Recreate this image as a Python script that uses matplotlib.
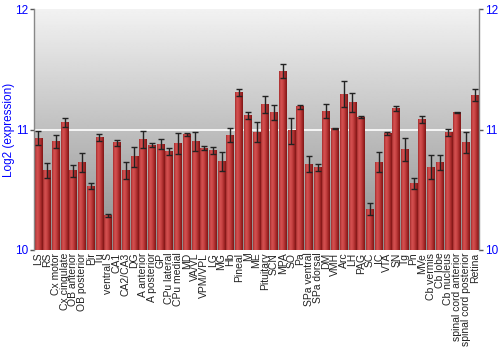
"""Log2 expression per brain region, bar chart with error bars."""

import matplotlib
matplotlib.use("Agg")
import matplotlib.pyplot as plt
import numpy as np
from matplotlib.colors import LinearSegmentedColormap

plt.rcParams["font.family"] = ["Liberation Sans", "DejaVu Sans"]

regions = [
    "LS", "RS", "Cx motor", "Cx cingulate", "OB anterior", "OB posterior",
    "Pir", "Tu", "ventral S", "CA1", "CA2/CA3", "DG", "A anterior",
    "A posterior", "GP", "CPu lateral", "CPu medial", "MD", "VA/VL",
    "VPM/VPL", "LG", "MG", "Hb", "Pineal", "M", "ME", "Pituitary", "SCN",
    "MPA", "SO", "Pa", "SPa ventral", "SPa dorsal", "DM", "VMH", "Arc", "LH",
    "PAG", "SC", "IC", "VTA", "SN", "Tg", "Pn", "MVe", "Cb vermis", "Cb lobe",
    "Cb nucleus", "spinal cord anterior", "spinal cord posterior", "Retina",
]
expression = [
    10.93, 10.66, 10.90, 11.06, 10.66, 10.73, 10.53, 10.935, 10.285, 10.89,
    10.66, 10.775, 10.92, 10.87, 10.88, 10.82, 10.885, 10.96, 10.90, 10.845,
    10.83, 10.735, 10.955, 11.31, 11.12, 10.98, 11.21, 11.14, 11.485, 10.99,
    11.19, 10.715, 10.685, 11.155, 11.01, 11.295, 11.23, 11.105, 10.34, 10.73,
    10.97, 11.175, 10.835, 10.55, 11.085, 10.69, 10.73, 10.975, 11.14, 10.89,
    11.285,
]
sem = [
    0.06, 0.066, 0.055, 0.035, 0.05, 0.08, 0.025, 0.028, 0.014, 0.026,
    0.072, 0.084, 0.073, 0.017, 0.04, 0.029, 0.087, 0.015, 0.077, 0.018,
    0.03, 0.076, 0.058, 0.032, 0.03, 0.083, 0.069, 0.062, 0.058, 0.107,
    0.014, 0.064, 0.028, 0.058, 0.008, 0.11, 0.079, 0.008, 0.05, 0.086,
    0.012, 0.018, 0.098, 0.047, 0.028, 0.10, 0.062, 0.03, 0.005, 0.088,
    0.05,
]
y_ticks = [10, 11, 12]

fig = plt.figure(figsize=(5, 3.5), dpi=100)
ax = fig.add_axes([0.068, 0.286, 0.890, 0.687])

x = np.arange(len(regions))
ymin, ymax = 10, 12
ax.set_xlim(-0.5, len(regions) - 0.5)
ax.set_ylim(ymin, ymax)

# grey vertical gradient behind the bars: light at the top, darker below
bg = np.linspace(0.95, 0.55, 256).reshape(-1, 1)
ax.imshow(bg, cmap="gray", vmin=0, vmax=1, aspect="auto", origin="upper",
          extent=(-0.5, len(regions) - 0.5, ymin, ymax), zorder=0,
          interpolation="bilinear")
ax.axhline(11, color="white", linewidth=1.2, zorder=1)

bars = ax.bar(x, np.array(expression) - ymin, bottom=ymin, width=0.88,
              color="none", edgecolor="none", zorder=2)
bar_cmap = LinearSegmentedColormap.from_list(
    "barred", ["#a52c2c", "#d65252", "#c84444", "#a82a2a", "#7e1616"])
grad = np.linspace(0, 1, 64).reshape(1, -1)
for patch in bars:
    x0 = patch.get_x()
    ax.imshow(grad, cmap=bar_cmap, aspect="auto", interpolation="bilinear",
              extent=(x0, x0 + patch.get_width(), ymin,
                      ymin + patch.get_height()),
              zorder=2)

ax.errorbar(x, expression, yerr=sem, fmt="none", ecolor="#222222",
            elinewidth=1, capsize=2.2, capthick=1, zorder=3)

ax.set_xlim(-0.5, len(regions) - 0.5)
ax.set_ylim(ymin, ymax)

ax.set_xticks(x)
ax.set_xticklabels(regions, rotation=90, fontsize=7.5, color="#222222")
ax.tick_params(axis="x", length=0, pad=2)

ax.set_yticks(y_ticks)
ax.set_yticklabels([str(t) for t in y_ticks])
ax.tick_params(axis="y", which="both", left=True, right=True,
               labelleft=True, labelright=True, length=3, width=1,
               color="#555555", labelcolor="#0000ff", labelsize=8.5, pad=1)
ax.set_ylabel("Log2 (expression)", color="#0000ff", fontsize=8.5)
ax.yaxis.set_label_coords(-0.043, 0.5)

for side in ("left", "right", "top", "bottom"):
    ax.spines[side].set_color("#888888")
    ax.spines[side].set_linewidth(1)
ax.spines["top"].set_visible(False)
ax.spines["bottom"].set_visible(False)

fig.savefig("out.png", dpi=100)
